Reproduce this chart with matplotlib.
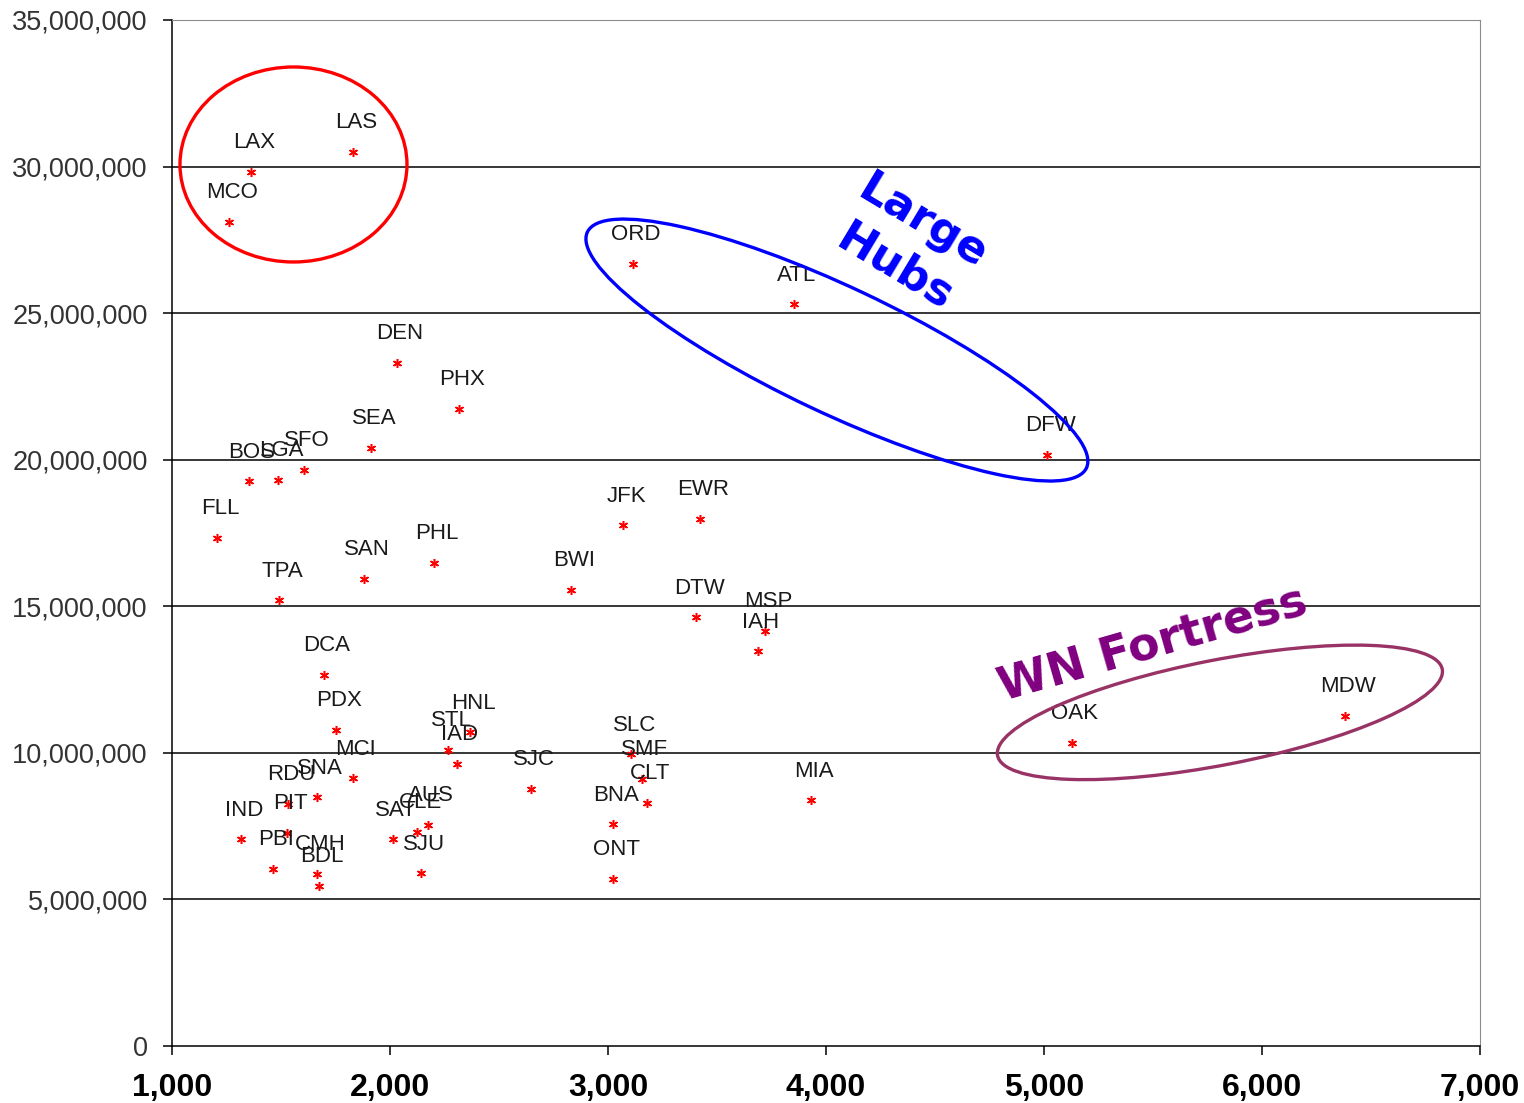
import matplotlib.pyplot as plt
from matplotlib.patches import Ellipse
from matplotlib.transforms import ScaledTranslation
from matplotlib.ticker import FuncFormatter, MultipleLocator

airports = [
    "LAX", "LAS", "MCO", "ORD", "ATL", "DEN", "PHX", "SEA", "DFW", "SFO",
    "LGA", "BOS", "EWR", "JFK", "FLL", "PHL", "SAN", "BWI", "TPA", "DTW",
    "MSP", "IAH", "DCA", "MDW", "PDX", "HNL", "OAK", "STL", "SLC", "IAD",
    "MCI", "SMF", "SJC", "SNA", "MIA", "CLT", "RDU", "BNA", "AUS", "CLE",
    "PIT", "SAT", "IND", "PBI", "SJU", "CMH", "ONT", "BDL",
]
stage_x = [
    1362, 1830, 1261, 3115, 3853, 2032, 2317, 1913, 5014, 1606,
    1486, 1353, 3422, 3069, 1206, 2202, 1881, 2830, 1491, 3404,
    3720, 3688, 1697, 6381, 1752, 2367, 5128, 2266, 3106, 2307,
    1830, 3156, 2647, 1665, 3931, 3179, 1532, 3023, 2174, 2124,
    1528, 2014, 1317, 1463, 2142, 1665, 3023, 1674,
]
passengers_m = [
    29.82, 30.50, 28.11, 26.68, 25.31, 23.30, 21.73, 20.40, 20.16, 19.65,
    19.31, 19.27, 17.98, 17.77, 17.33, 16.48, 15.93, 15.56, 15.21, 14.63,
    14.16, 13.47, 12.66, 11.26, 10.78, 10.71, 10.34, 10.10, 9.96, 9.62,
    9.14, 9.11, 8.77, 8.49, 8.39, 8.29, 8.26, 7.57, 7.54, 7.30,
    7.27, 7.06, 7.06, 6.04, 5.90, 5.87, 5.70, 5.46,
]
passengers = [v * 1e6 for v in passengers_m]

fig = plt.figure(figsize=(15.24, 11.03), dpi=100)
ax = fig.add_axes([0.1129, 0.0517, 0.9711 - 0.1129, 0.9819 - 0.0517])

ax.plot(stage_x, passengers, ls="none", marker=(6, 2, 0), ms=6.5, mew=1.1,
        color="#ff0000", zorder=3)

for code, x, y in zip(airports, stage_x, passengers):
    ax.annotate(code, (x, y), xytext=(3, 29), textcoords="offset pixels",
                ha="center", va="center", fontsize=16,
                family="Liberation Sans", color="#1a1a1a", zorder=4)

ax.set_xlim(1000, 7000)
ax.set_ylim(0, 35e6)
ax.xaxis.set_major_locator(MultipleLocator(1000))
ax.yaxis.set_major_locator(MultipleLocator(5e6))
ax.xaxis.set_major_formatter(FuncFormatter(lambda v, p: f"{v:,.0f}"))
ax.yaxis.set_major_formatter(FuncFormatter(lambda v, p: f"{v:,.0f}"))

for yv in range(5, 35, 5):
    ax.axhline(yv * 1e6, color="black", lw=1.1, zorder=1)

for side in ("top", "right"):
    ax.spines[side].set_color("#8c8c8c")
for side in ("left", "bottom"):
    ax.spines[side].set_color("black")
    ax.spines[side].set_linewidth(1.1)

ax.tick_params(axis="y", direction="out", length=6.5, width=1.1, pad=11,
               labelsize=19.5, labelcolor="#333333")
ax.tick_params(axis="x", direction="out", length=6.5, width=1.1, pad=13,
               labelsize=23)
for lbl in ax.get_yticklabels():
    lbl.set_family("Liberation Sans")
for lbl in ax.get_xticklabels():
    lbl.set_family("Liberation Sans")
    lbl.set_fontweight("bold")


# ellipses sized in pixels, centred on data coordinates
def ring(cx, cy, w_px, h_px, angle, color):
    tr = fig.dpi_scale_trans + ScaledTranslation(cx, cy, ax.transData)
    e = Ellipse((0, 0), w_px / 100, h_px / 100, angle=angle, transform=tr,
                fill=False, edgecolor=color, lw=2.4, zorder=5)
    ax.add_artist(e)


ring(1557, 30.07e6, 227, 195, 0, "#ff0000")
ring(4050, 23.74e6, 552, 126, -25.3, "#0000ff")
ring(5807, 11.38e6, 453, 105, 11, "#993366")

ax.text(4380, 27.32e6, "Large\nHubs", rotation=-31, rotation_mode="anchor",
        ha="center", va="center", multialignment="center", linespacing=1.3,
        fontsize=32, fontweight="bold", family="DejaVu Sans", color="#0000ff",
        zorder=6)
ax.text(5500, 13.68e6, "WN Fortress", rotation=16, rotation_mode="anchor",
        ha="center", va="center", fontsize=33, fontweight="bold",
        family="DejaVu Sans", color="#800080", zorder=6)

fig.savefig("out.png", dpi=100)
